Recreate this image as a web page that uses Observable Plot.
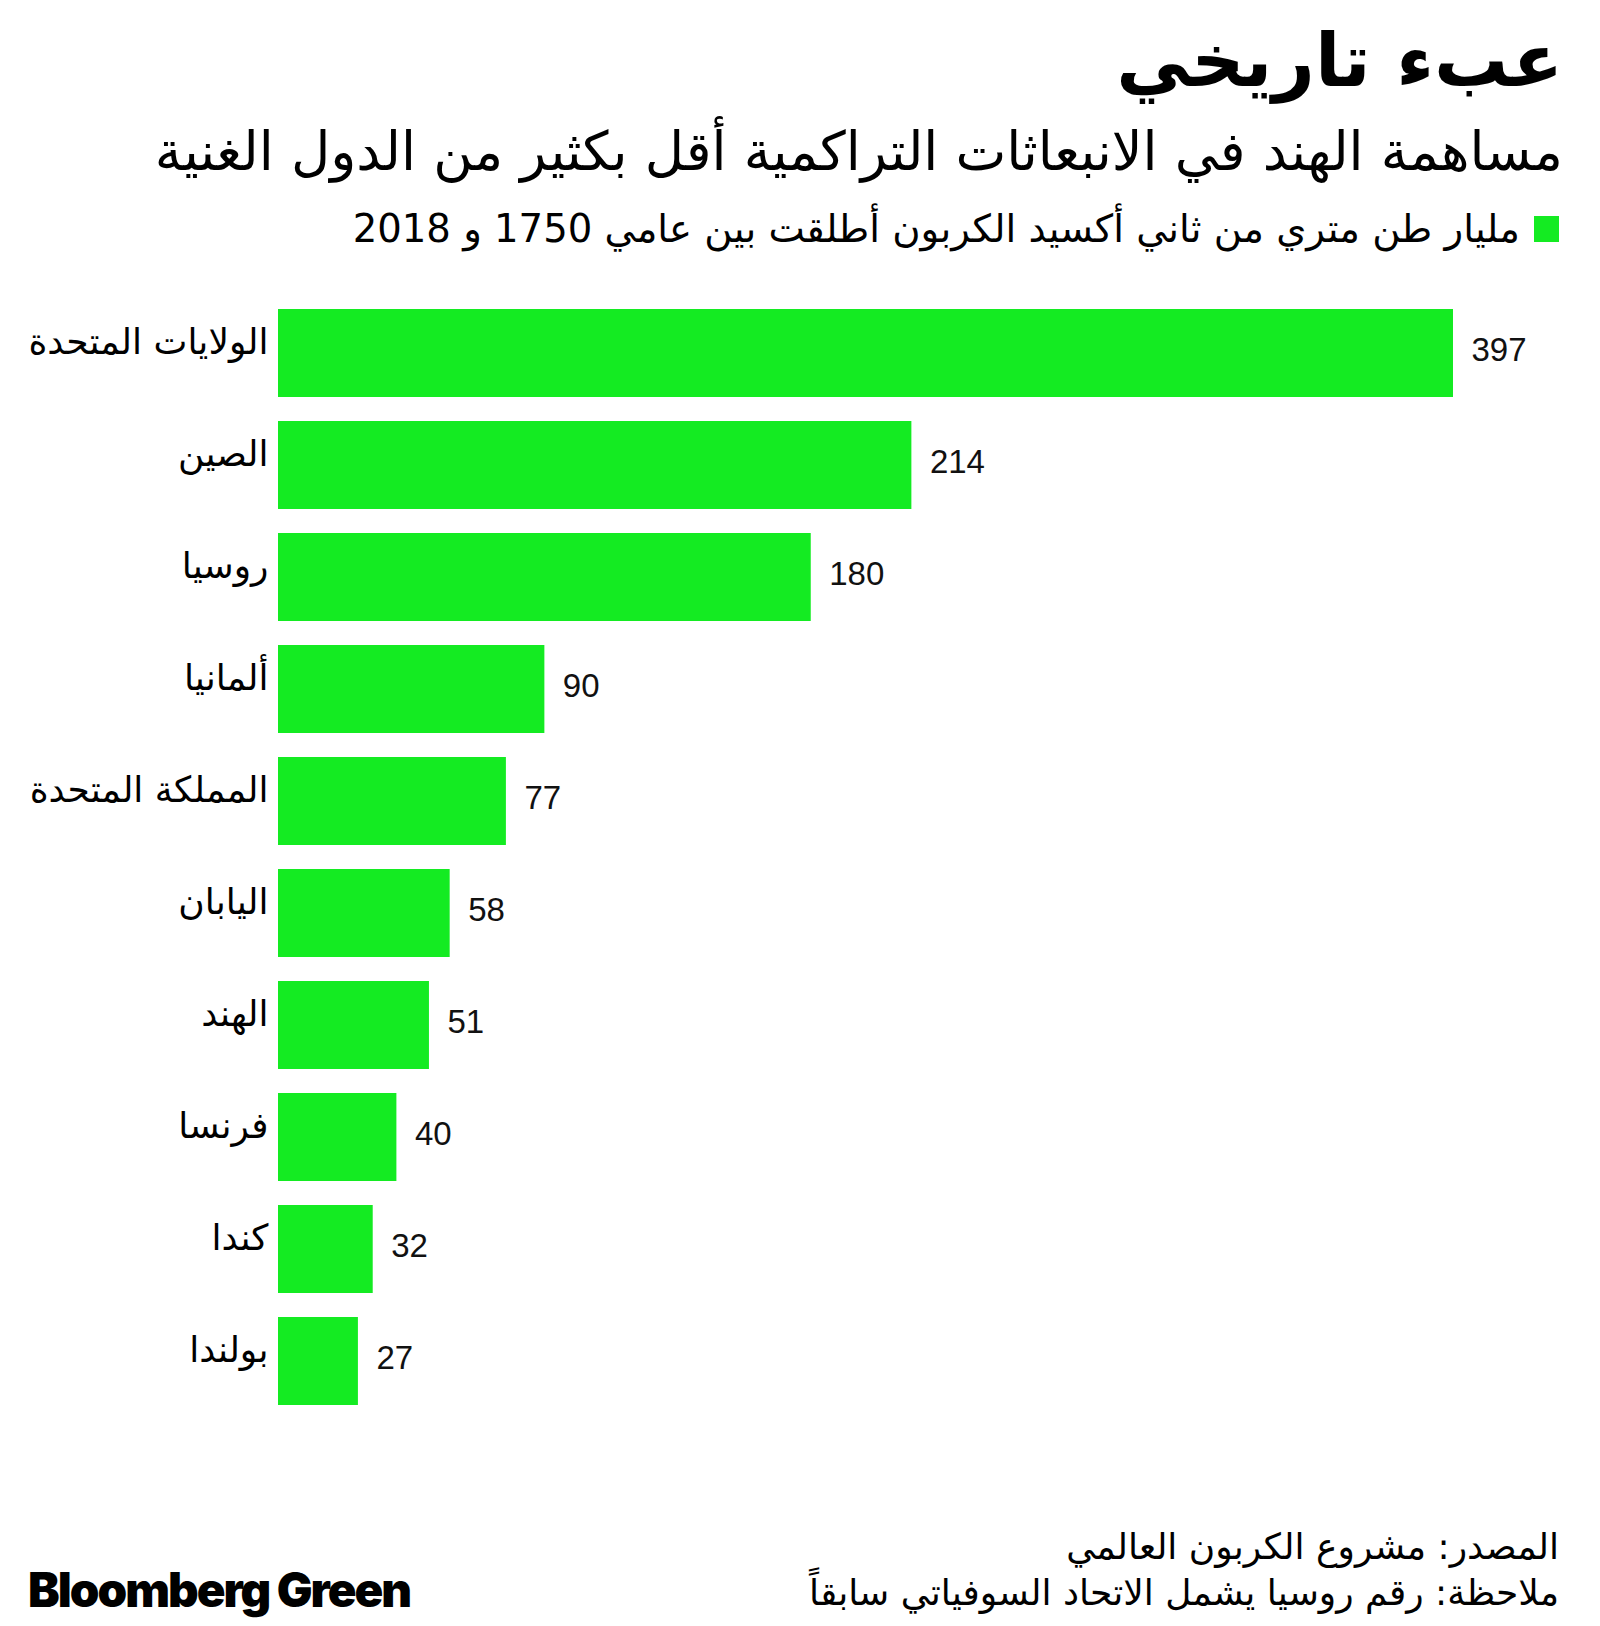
<!DOCTYPE html>
<html lang="ar">
<head>
<meta charset="utf-8">
<script src="https://cdn.jsdelivr.net/npm/d3@7"></script>
<script src="https://cdn.jsdelivr.net/npm/@observablehq/plot@0.6"></script>
<style>
  html, body { margin: 0; padding: 0; background: #fff; }
  body { width: 1600px; height: 1626px; position: relative; overflow: hidden; font-family: "DejaVu Sans", sans-serif; color: #000; }
  .t { position: absolute; direction: rtl; white-space: nowrap; font-family: "DejaVu Sans", sans-serif; line-height: 1; }
  #title { right: 37px; top: 23px; font-size: 74px; font-weight: bold; }
  #subtitle { right: 37px; top: 125px; font-size: 54px; }
  #legend { right: 41px; top: 210px; font-size: 38.6px; display: flex; align-items: center; gap: 14px; }
  #legend .sw { width: 25px; height: 26px; background: #14eb22; display: inline-block; }
  #chart { position: absolute; left: 0; top: 270px; }
  #source { right: 41px; top: 1529px; font-size: 36px; }
  #note { right: 41px; top: 1575px; font-size: 36px; }
  #logo { position: absolute; left: 28px; top: 1566px; font-family: Inter, Roboto, sans-serif; font-weight: 900; font-size: 47.5px; letter-spacing: -2px; line-height: 1; }
</style>
</head>
<body>
<div id="title" class="t">عبء تاريخي</div>
<div id="subtitle" class="t">مساهمة الهند في الانبعاثات التراكمية أقل بكثير من الدول الغنية</div>
<div id="legend" class="t"><span class="sw"></span><span>مليار طن متري من ثاني أكسيد الكربون أطلقت بين عامي 1750 و 2018</span></div>
<div id="chart"></div>
<div id="source" class="t">المصدر: مشروع الكربون العالمي</div>
<div id="note" class="t">ملاحظة: رقم روسيا يشمل الاتحاد السوفياتي سابقاً</div>
<div id="logo">Bloomberg Green</div>
<script>
const countries = ["الولايات المتحدة", "الصين", "روسيا", "ألمانيا", "المملكة المتحدة", "اليابان", "الهند", "فرنسا", "كندا", "بولندا"];
const values = [397, 214, 180, 90, 77, 58, 51, 40, 32, 27];

const data = countries.map((c, i) => ({country: c, value: values[i]}));

const chart = Plot.plot({
  width: 1600,
  height: 1180,
  marginTop: 15,
  marginBottom: 21,
  marginLeft: 278,
  marginRight: 147,
  style: {fontFamily: "'Liberation Sans', 'DejaVu Sans', sans-serif", background: "#fff", color: "#000"},
  x: {domain: [0, 397], axis: null},
  y: {domain: countries, padding: 0.214, axis: null},
  marks: [
    Plot.barX(data, {x: "value", y: "country", fill: "#14eb22"}),
    Plot.text(data, {x: 0, y: "country", text: "country", textAnchor: "end", dx: -10, dy: -11, fontSize: 36, fill: "#000", fontFamily: "'DejaVu Sans', sans-serif"}),
    Plot.text(data, {x: "value", y: "country", text: d => String(d.value), textAnchor: "start", dx: 18, dy: -3, fontSize: 33, fill: "#111"})
  ]
});
document.getElementById("chart").appendChild(chart);
</script>
</body>
</html>
